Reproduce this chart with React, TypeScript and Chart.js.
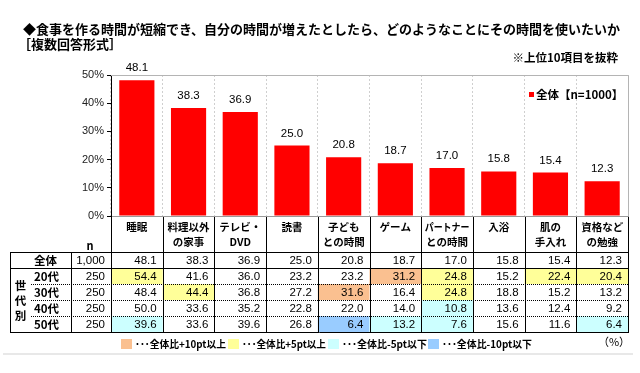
import React, { useEffect, useRef } from "react";
import { Chart, registerables } from "chart.js";

Chart.register(...registerables);

const TITLE = "◆食事を作る時間が短縮でき、自分の時間が増えたとしたら、どのようなことにその時間を使いたいか";
const SUBTITLE = "［複数回答形式］";
const NOTE = "※上位10項目を抜粋";
const SERIES_LABEL = "全体【n=1000】";

const CATEGORIES: string[][] = [
  ["睡眠"],
  ["料理以外", "の家事"],
  ["テレビ・", "DVD"],
  ["読書"],
  ["子ども", "との時間"],
  ["ゲーム"],
  ["パートナー", "との時間"],
  ["入浴"],
  ["肌の", "手入れ"],
  ["資格など", "の勉強"],
];

const TOTAL = [48.1, 38.3, 36.9, 25.0, 20.8, 18.7, 17.0, 15.8, 15.4, 12.3];
const AGE_20 = [54.4, 41.6, 36.0, 23.2, 23.2, 31.2, 24.8, 15.2, 22.4, 20.4];
const AGE_30 = [48.4, 44.4, 36.8, 27.2, 31.6, 16.4, 24.8, 18.8, 15.2, 13.2];
const AGE_40 = [50.0, 33.6, 35.2, 22.8, 22.0, 14.0, 10.8, 13.6, 12.4, 9.2];
const AGE_50 = [39.6, 33.6, 39.6, 26.8, 6.4, 13.2, 7.6, 15.6, 11.6, 6.4];

const ROW_LABELS = ["全体", "20代", "30代", "40代", "50代"];
const ROW_N = ["1,000", "250", "250", "250", "250"];
const GROUP_LABEL = ["世", "代", "別"];
const N_HEADER = "n";

const Y_MIN = 0;
const Y_MAX = 50;
const Y_STEP = 10;

const LEGEND_TEXTS = [
  "･･･全体比+10pt以上",
  "･･･全体比+5pt以上",
  "･･･全体比-5pt以下",
  "･･･全体比-10pt以下",
];
const UNIT_LABEL = "（%）";

const COLOR_PLUS10 = "#FAC090";
const COLOR_PLUS5 = "#FFFF99";
const COLOR_MINUS5 = "#CCFFFF";
const COLOR_MINUS10 = "#99CCFF";
const LEGEND_COLORS = [COLOR_PLUS10, COLOR_PLUS5, COLOR_MINUS5, COLOR_MINUS10];

const JP = "'Noto Sans CJK JP', 'Noto Sans', sans-serif";
const NUM = "'Liberation Sans', Arial, sans-serif";

function cellColor(v: number, base: number): string | null {
  const d = v - base;
  if (d >= 10) return COLOR_PLUS10;
  if (d >= 5) return COLOR_PLUS5;
  if (d <= -10) return COLOR_MINUS10;
  if (d <= -5) return COLOR_MINUS5;
  return null;
}

const decorPlugin = {
  id: "decor",
  afterDraw(chart: any) {
    const ctx: CanvasRenderingContext2D = chart.ctx;
    const area = chart.chartArea;
    const xs = chart.scales.x;
    const n = CATEGORIES.length;
    const step = xs.getPixelForValue(1) - xs.getPixelForValue(0);
    const colB: number[] = [];
    for (let i = 0; i <= n; i++) colB.push(xs.getPixelForValue(0) - step / 2 + i * step);
    const px = (v: number) => Math.round(v) + 0.5;

    ctx.save();

    // Titles
    ctx.fillStyle = "#000";
    ctx.textBaseline = "middle";
    ctx.textAlign = "left";
    ctx.font = `bold 13px ${JP}`;
    ctx.fillText(TITLE, 23, 29, 606);
    ctx.fillText(SUBTITLE, 18, 44);
    ctx.textAlign = "right";
    ctx.font = `bold 11.5px ${JP}`;
    ctx.fillText(NOTE, 618, 58);

    // plot frame (top, right)
    ctx.strokeStyle = "#b4b4b4";
    ctx.lineWidth = 1;
    ctx.beginPath();
    ctx.moveTo(area.left, px(area.top));
    ctx.lineTo(px(area.right), px(area.top));
    ctx.lineTo(px(area.right), area.bottom);
    ctx.stroke();

    // series legend
    ctx.fillStyle = "#ff0000";
    ctx.fillRect(529, 92, 5, 5);
    ctx.fillStyle = "#000";
    ctx.textAlign = "left";
    ctx.font = `bold 11.5px ${JP}`;
    ctx.fillText(SERIES_LABEL, 536, 95);

    // bar value labels
    const meta = chart.getDatasetMeta(0);
    ctx.font = `11.5px ${NUM}`;
    ctx.textAlign = "center";
    ctx.textBaseline = "alphabetic";
    meta.data.forEach((bar: any, i: number) => {
      ctx.fillText(TOTAL[i].toFixed(1), bar.x, bar.y - 9);
    });

    // table
    const headerTop = area.bottom;
    const tableTop = 252;
    const rowH = 16;
    const rows = [TOTAL, AGE_20, AGE_30, AGE_40, AGE_50];
    const tableBottom = tableTop + rowH * rows.length;
    const tableLeft = 10;
    const nLeft = 71;
    const tableRight = colB[n];

    // fills
    for (let r = 1; r < rows.length; r++) {
      for (let c = 0; c < n; c++) {
        const col = cellColor(rows[r][c], TOTAL[c]);
        if (col) {
          ctx.fillStyle = col;
          ctx.fillRect(colB[c], tableTop + r * rowH, colB[c + 1] - colB[c], rowH);
        }
      }
    }

    ctx.strokeStyle = "#000";
    ctx.lineWidth = 1;
    [tableTop, tableTop + rowH, tableBottom].forEach((y) => {
      ctx.beginPath();
      ctx.moveTo(tableLeft, px(y));
      ctx.lineTo(tableRight + 1, px(y));
      ctx.stroke();
    });
    ctx.setLineDash([1, 1]);
    for (let r = 2; r < rows.length; r++) {
      const y = tableTop + r * rowH;
      ctx.beginPath();
      ctx.moveTo(31, px(y));
      ctx.lineTo(tableRight, px(y));
      ctx.stroke();
    }
    ctx.setLineDash([]);
    [tableLeft, nLeft].forEach((x) => {
      ctx.beginPath();
      ctx.moveTo(px(x), tableTop);
      ctx.lineTo(px(x), tableBottom);
      ctx.stroke();
    });
    colB.forEach((x) => {
      ctx.beginPath();
      ctx.moveTo(px(x), headerTop + 1);
      ctx.lineTo(px(x), tableBottom);
      ctx.stroke();
    });

    // header texts
    ctx.fillStyle = "#000";
    ctx.textAlign = "center";
    ctx.textBaseline = "middle";
    ctx.font = `bold 10.5px ${JP}`;
    CATEGORIES.forEach((lines, c) => {
      const cx = (colB[c] + colB[c + 1]) / 2;
      const maxW = colB[c + 1] - colB[c] - 7;
      lines.forEach((t, li) => ctx.fillText(t, cx, 227 + li * 15.5, maxW));
    });
    ctx.font = `bold 11px ${JP}`;
    ctx.fillText(N_HEADER, 90, 246);

    // row labels
    ctx.textAlign = "left";
    ctx.font = `bold 11.5px ${JP}`;
    ROW_LABELS.forEach((t, r) => ctx.fillText(t, 34, tableTop + r * rowH + rowH / 2 + 0.5));
    ctx.textAlign = "center";
    GROUP_LABEL.forEach((t, i) => ctx.fillText(t, 20.5, 286 + i * 15));

    // numbers
    ctx.font = `11.5px ${NUM}`;
    ctx.textAlign = "right";
    ROW_N.forEach((t, r) => ctx.fillText(t, 105, tableTop + r * rowH + rowH / 2 + 1));
    rows.forEach((vals, r) => {
      vals.forEach((v, c) => {
        ctx.fillText(v.toFixed(1), colB[c + 1] - 6, tableTop + r * rowH + rowH / 2 + 1);
      });
    });

    // bottom legend
    const swX = [121, 228, 328, 428];
    const txtW = [91, 84, 85, 90];
    ctx.textAlign = "left";
    ctx.font = `bold 10px ${JP}`;
    LEGEND_TEXTS.forEach((t, i) => {
      ctx.fillStyle = LEGEND_COLORS[i];
      ctx.fillRect(swX[i], 339, 11, 10);
      ctx.fillStyle = "#000";
      ctx.fillText(t, swX[i] + 14, 344, txtW[i]);
    });
    ctx.textAlign = "center";
    ctx.font = `11px ${JP}`;
    ctx.fillText(UNIT_LABEL, 614, 342);

    // bottom rule
    ctx.strokeStyle = "#e0e0e0";
    ctx.lineWidth = 1.5;
    ctx.beginPath();
    ctx.moveTo(3, 354);
    ctx.lineTo(633, 354);
    ctx.stroke();

    ctx.restore();
  },
};

export default function App() {
  const ref = useRef<HTMLCanvasElement>(null);
  useEffect(() => {
    if (!ref.current) return;
    Chart.defaults.font.family = NUM;
    const chart = new Chart(ref.current, {
      type: "bar",
      data: {
        labels: CATEGORIES.map((c) => c.join("")),
        datasets: [
          {
            label: SERIES_LABEL,
            data: TOTAL,
            backgroundColor: "#ff0000",
            borderWidth: 0,
            barPercentage: 0.68,
            categoryPercentage: 1.0,
          },
        ],
      },
      options: {
        responsive: false,
        animation: false,
        events: [],
        layout: { padding: { top: 75, right: 12, left: 0, bottom: 0 } },
        plugins: { legend: { display: false }, tooltip: { enabled: false }, title: { display: false } },
        scales: {
          x: {
            type: "category",
            offset: true,
            grid: { display: true, offset: true, color: "#cfcfcf", drawTicks: false, lineWidth: 1 },
            border: { display: true, color: "#9a9a9a", dash: [2, 2] },
            ticks: { display: false },
            afterFit: (s: any) => {
              s.height = 157;
            },
          },
          y: {
            min: Y_MIN,
            max: Y_MAX,
            ticks: {
              stepSize: Y_STEP,
              callback: (v: any) => `${v}%`,
              font: { family: NUM, size: 11 },
              color: "#222",
              padding: 3,
            },
            grid: { drawOnChartArea: false, drawTicks: true, tickLength: 4, color: "#000" },
            border: { display: true, color: "#000" },
            afterFit: (s: any) => {
              s.width = 111;
            },
          },
        },
      } as any,
      plugins: [decorPlugin],
    });
    return () => chart.destroy();
  }, []);
  return (
    <div style={{ position: "absolute", left: 0, top: 0, width: 640, height: 373, background: "#fff" }}>
      <canvas ref={ref} width={640} height={373} style={{ display: "block" }} />
    </div>
  );
}
